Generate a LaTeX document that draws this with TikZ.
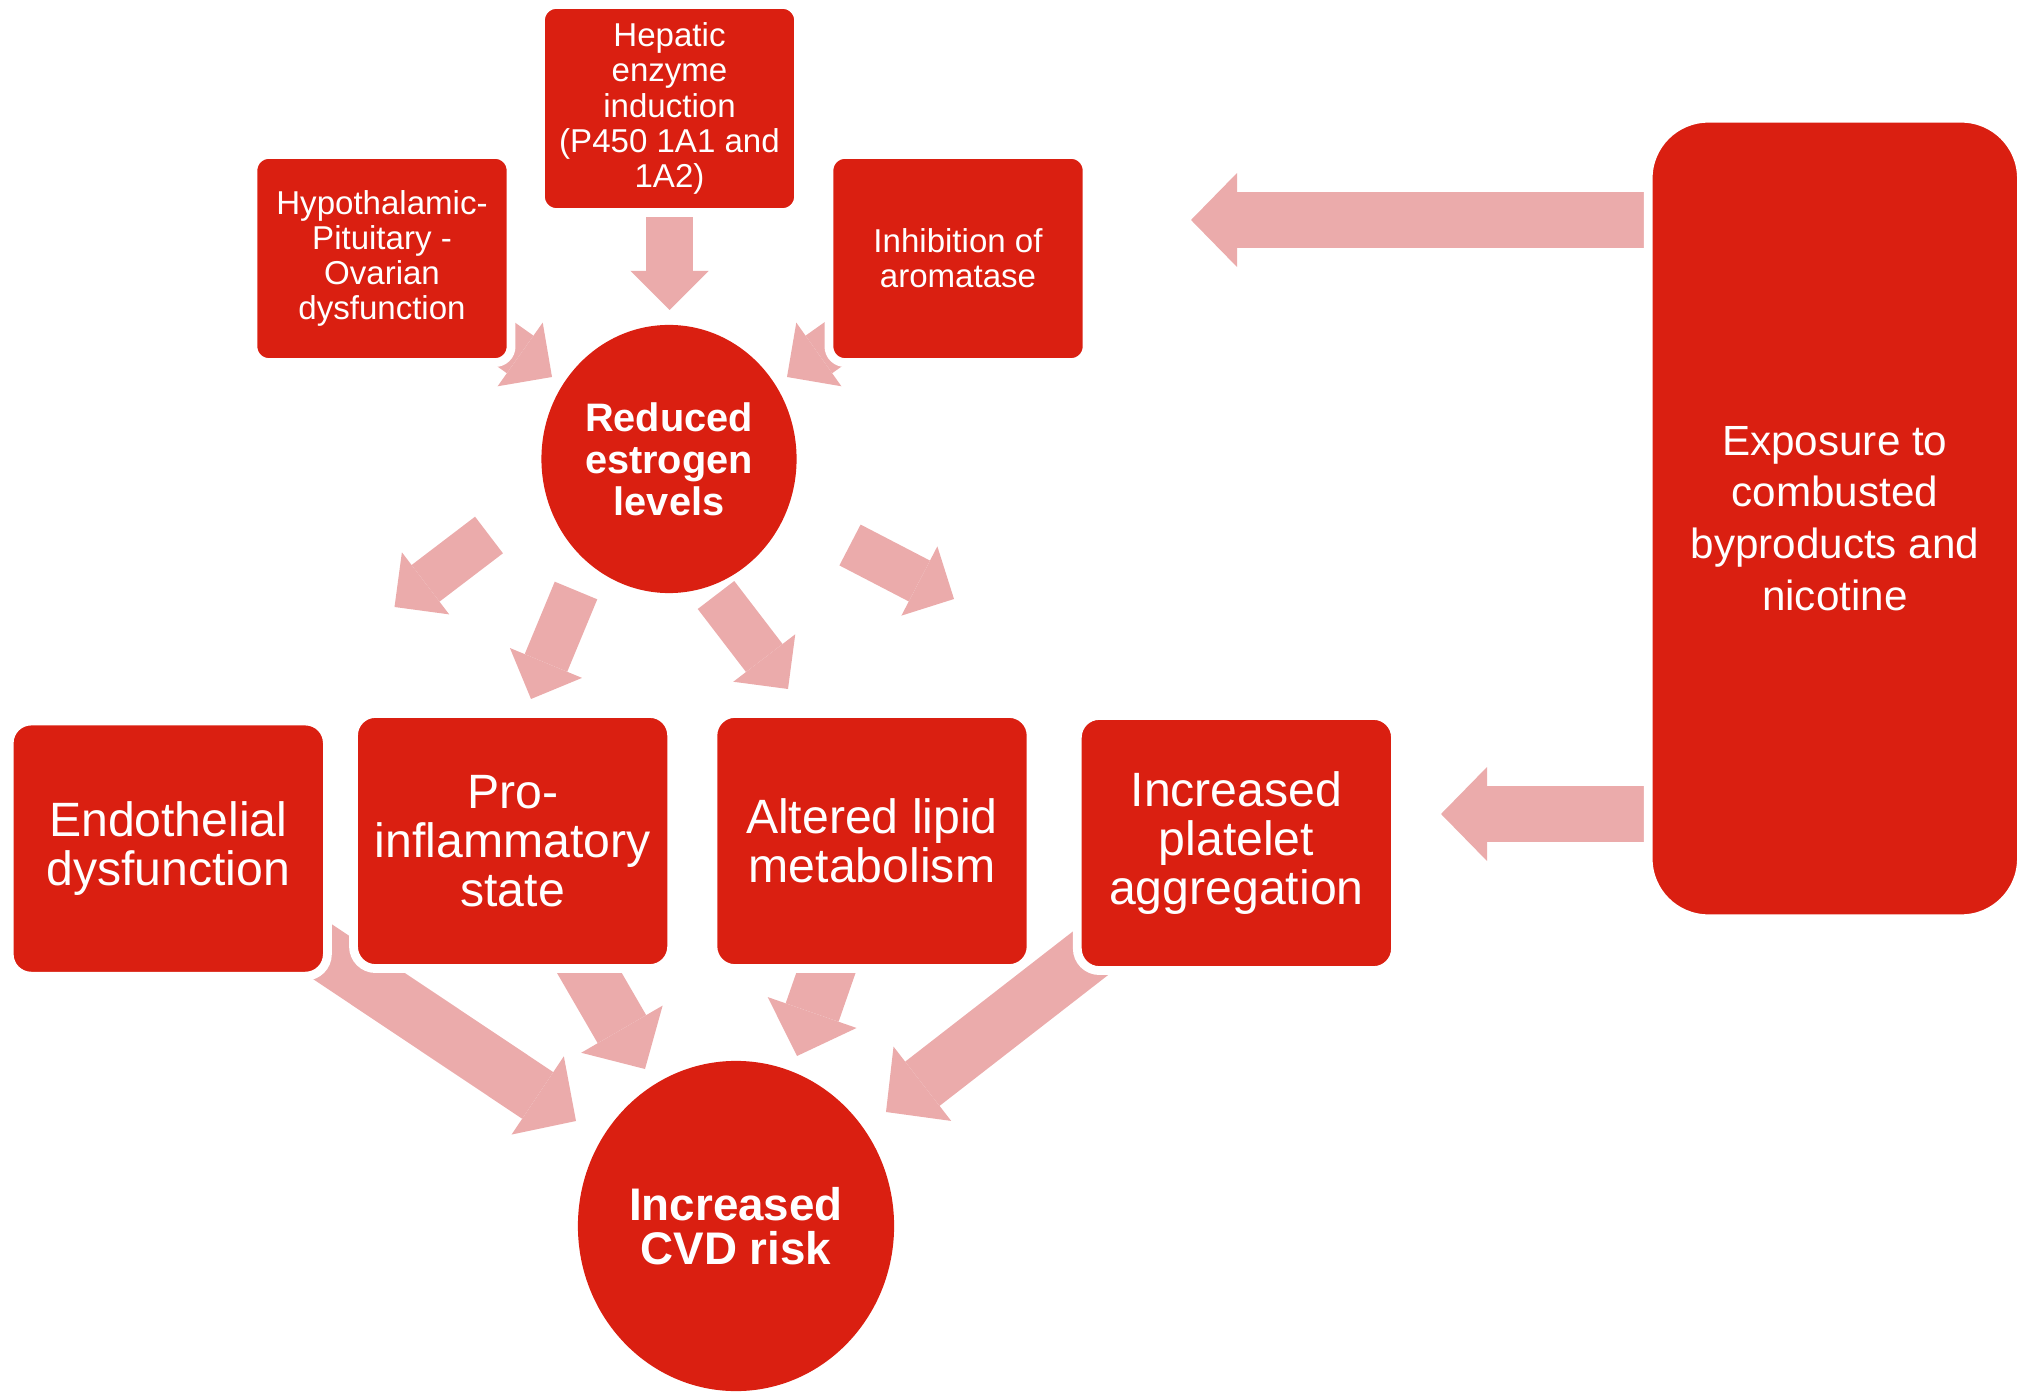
\documentclass[tikz,border=0pt]{standalone}
\usepackage{fontspec}
\setmainfont{Liberation Sans}
\usetikzlibrary{shapes.geometric,arrows.meta,backgrounds}
\definecolor{boxred}{RGB}{218,31,17}
\definecolor{flowpink}{RGB}{235,171,171}
\tikzset{
  redbox/.style={rectangle, fill=boxred, draw=white, line width=2.5pt,
    text=white, align=center, inner sep=0pt},
  smallbox/.style={redbox, rounded corners=0.16cm, minimum width=2.58cm,
    minimum height=2.08cm, font=\fontsize{9.4}{10}\selectfont},
  bigbox/.style={redbox, rounded corners=0.22cm, minimum width=3.18cm,
    minimum height=2.55cm, font=\fontsize{13.7}{14}\selectfont},
  hub/.style={ellipse, fill=boxred, text=white, align=center, inner sep=0pt},
  thinflow/.style={flowpink, line width=0.46cm,
    -{Triangle[length=0.39cm,width=0.78cm,line width=0pt]}},
  fatflow/.style={flowpink, line width=0.56cm,
    -{Triangle[length=0.46cm,width=0.94cm,line width=0pt]}}
}
\begin{document}
\begin{tikzpicture}[x=0.01cm,y=-0.01cm]
    \useasboundingbox (0,0) rectangle (2028,1392);

    % Causes at the top
    \node[smallbox] (hep) at (669.5,108.5) {Hepatic\\enzyme\\induction\\(P450 1A1 and\\1A2)};
    \node[smallbox] (hyp) at (382,258.5) {Hypothalamic-\\Pituitary -\\Ovarian\\dysfunction};
    \node[smallbox] (inh) at (958,258.5) {Inhibition of\\aromatase};

    % Estrogen hub
    \node[hub, minimum width=2.55cm, minimum height=2.68cm,
      font=\bfseries\fontsize{11.3}{12}\selectfont] (estro) at (669,459) {Reduced\\estrogen\\levels};

    % Effects
    \node[bigbox] (endo) at (168.3,848.6) {Endothelial\\dysfunction};
    \node[bigbox] (pro) at (512.6,841) {Pro-\\inflammatory\\state};
    \node[bigbox] (lipid) at (872,841) {Altered lipid\\metabolism};
    \node[bigbox] (plat) at (1236.4,843) {Increased\\platelet\\aggregation};

    % Smoking exposure
    \node[redbox, rounded corners=0.6cm, minimum width=3.73cm, minimum height=8.0cm,
      font=\fontsize{12}{14.7}\selectfont] (expo) at (1834.8,518.5)
      {Exposure to\\combusted\\byproducts and\\nicotine};

    % Outcome
    \node[hub, minimum width=3.16cm, minimum height=3.30cm,
      font=\bfseries\fontsize{13}{12.5}\selectfont] (cvd) at (736,1226) {Increased\\CVD risk};

    % Arrow ends
    \coordinate (hepS) at (669.5,190);  \coordinate (hepT) at (669.5,310);
    \coordinate (hypS) at (456,309);    \coordinate (hypT) at (552,377);
    \coordinate (inhS) at (883,309);    \coordinate (inhT) at (787,377);
    \coordinate (endoS) at (489,535);   \coordinate (endoT) at (394.5,607);
    \coordinate (proS) at (576,590.5);  \coordinate (proT) at (531,699);
    \coordinate (lipidS) at (716,595);  \coordinate (lipidT) at (788,689);
    \coordinate (platS) at (850,545);   \coordinate (platT) at (954,599);
    \coordinate (cvdA) at (302,938);    \coordinate (cvdAT) at (576,1121);
    \coordinate (cvdB) at (572,943);    \coordinate (cvdBT) at (645,1069);
    \coordinate (cvdC) at (837,941);    \coordinate (cvdCT) at (797,1056);
    \coordinate (cvdD) at (1123,928);   \coordinate (cvdDT) at (886,1112);
    \coordinate (expoA) at (1700,220);  \coordinate (expoAT) at (1191,220);
    \coordinate (expoB) at (1700,814);  \coordinate (expoBT) at (1441,814);

    % Block arrows behind the boxes
    \begin{scope}[on background layer]
        \draw[thinflow] (hepS) -- (hepT);
        \draw[thinflow] (hypS) -- (hypT);
        \draw[thinflow] (inhS) -- (inhT);
        \draw[thinflow] (endoS) -- (endoT);
        \draw[thinflow] (proS) -- (proT);
        \draw[thinflow] (lipidS) -- (lipidT);
        \draw[thinflow] (platS) -- (platT);
        \draw[fatflow] (cvdA) -- (cvdAT);
        \draw[fatflow] (cvdB) -- (cvdBT);
        \draw[fatflow] (cvdC) -- (cvdCT);
        \draw[fatflow] (cvdD) -- (cvdDT);
        \draw[fatflow] (expoA) -- (expoAT);
        \draw[fatflow] (expoB) -- (expoBT);
    \end{scope}
\end{tikzpicture}
\end{document}
